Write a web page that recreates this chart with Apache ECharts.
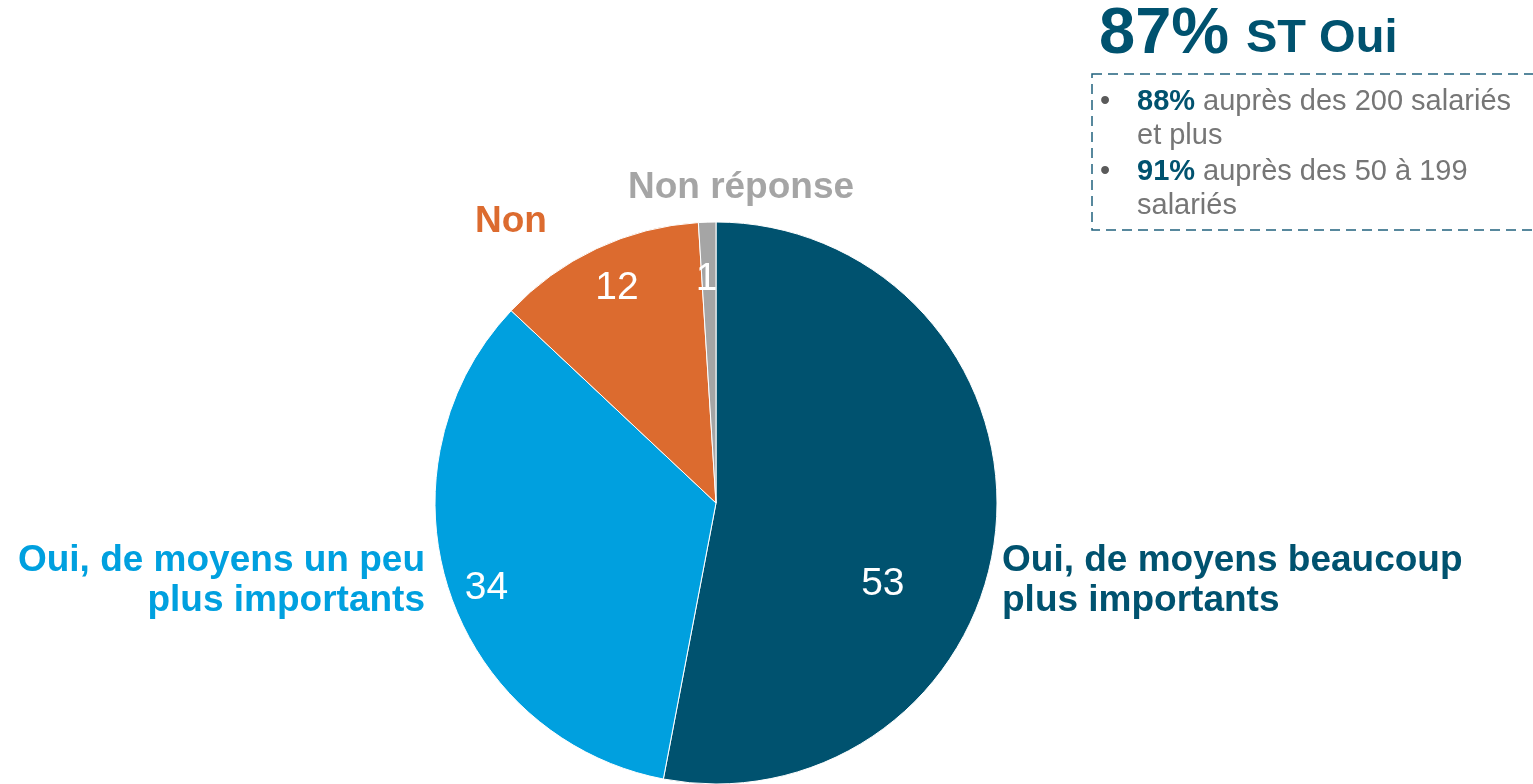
<!DOCTYPE html>
<html>
<head>
<meta charset="utf-8">
<script src="https://cdn.jsdelivr.net/npm/echarts@6/dist/echarts.min.js"></script>
<style>
  html, body { margin: 0; padding: 0; background: #ffffff; }
  #chart { width: 1533px; height: 784px; }
</style>
</head>
<body>
<div id="chart"></div>
<script>
// ---- data ----
const categories = ['Oui, de moyens beaucoup plus importants', 'Oui, de moyens un peu plus importants', 'Non', 'Non réponse'];
const categoryLabels = ['Oui, de moyens beaucoup\nplus importants', 'Oui, de moyens un peu\nplus importants', 'Non', 'Non réponse'];
const values = [53, 34, 12, 1];
const headlineValue = '87%';
const headlineText = 'ST Oui';
const bulletValues = ['88%', '91%'];
const bulletTexts = [' auprès des 200 salariés\net plus', ' auprès des 50 à 199\nsalariés'];

// ---- styles / layout ----
const palette = ['#00526F', '#00A0DF', '#DC6B2F', '#A5A5A5'];
const FONT = "'Liberation Sans', Arial, Helvetica, sans-serif";
const innerOffsets = [[24, 68], [-93, 41], [-38, -85], [-5, -80]];
const outerLayout = [
  { x: 1002, y: 581, align: 'left' },
  { x: 425, y: 581, align: 'right' },
  { x: 511, y: 222, align: 'center' },
  { x: 741, y: 188, align: 'center' }
];

const pieData = categories.map((c, i) => ({ name: c, value: values[i], itemStyle: { color: palette[i] } }));
const labelData = categories.map((c, i) => ({
  name: c, value: values[i],
  label: { formatter: categoryLabels[i], color: palette[i], align: outerLayout[i].align }
}));

const chart = echarts.init(document.getElementById('chart'), null, { renderer: 'canvas' });
chart.setOption({
  animation: false,
  backgroundColor: '#ffffff',
  textStyle: { fontFamily: FONT },
  series: [
    {
      type: 'pie',
      center: [716, 503],
      radius: [0, 281],
      startAngle: 90,
      clockwise: true,
      silent: true,
      avoidLabelOverlap: false,
      itemStyle: { borderColor: '#ffffff', borderWidth: 1 },
      label: {
        show: true,
        position: 'inside',
        formatter: '{c}',
        color: '#ffffff',
        fontSize: 39,
        fontFamily: FONT,
        fontWeight: 'normal'
      },
      labelLine: { show: false },
      labelLayout: function (p) {
        const o = innerOffsets[p.dataIndex];
        return { dx: o[0], dy: o[1] };
      },
      data: pieData
    },
    {
      type: 'pie',
      center: [716, 503],
      radius: [0, 281],
      startAngle: 90,
      clockwise: true,
      silent: true,
      avoidLabelOverlap: false,
      itemStyle: { color: 'rgba(0,0,0,0)', borderWidth: 0 },
      label: {
        show: true,
        position: 'outside',
        fontSize: 37,
        lineHeight: 40,
        fontWeight: 'bold',
        fontFamily: FONT
      },
      labelLine: { show: false },
      labelLayout: function (p) {
        const l = outerLayout[p.dataIndex];
        return { x: l.x, y: l.y, align: l.align, verticalAlign: 'middle' };
      },
      data: labelData
    }
  ],
  graphic: [
    {
      type: 'text', left: 1099, top: 3, silent: true,
      style: { text: headlineValue, fontSize: 65, fontWeight: 'bold', fontFamily: FONT, fill: '#00526F' }
    },
    {
      type: 'text', left: 1246, top: 16, silent: true,
      style: { text: headlineText, fontSize: 47, fontWeight: 'bold', fontFamily: FONT, fill: '#00526F' }
    },
    {
      type: 'rect', silent: true,
      shape: { x: 1092, y: 74, width: 470, height: 156 },
      style: { fill: 'none', stroke: '#21617D', lineWidth: 1.5, lineDash: [10, 6] }
    },
    ...bulletValues.flatMap((v, i) => [
      {
        type: 'text', silent: true, x: 1100, y: 85 + i * 70,
        style: { text: '•', fontSize: 29, lineHeight: 34, fontFamily: FONT, fill: '#5A5A5A', verticalAlign: 'top' }
      },
      {
        type: 'text', silent: true, x: 1137, y: 85 + i * 70,
        style: {
          text: '{b|' + v + '}' + bulletTexts[i],
          fontSize: 29, lineHeight: 34, fontFamily: FONT, fill: '#767676', verticalAlign: 'top',
          rich: { b: { fontSize: 29, lineHeight: 34, fontWeight: 'bold', fill: '#00526F', fontFamily: FONT } }
        }
      }
    ])
  ]
});
</script>
</body>
</html>
